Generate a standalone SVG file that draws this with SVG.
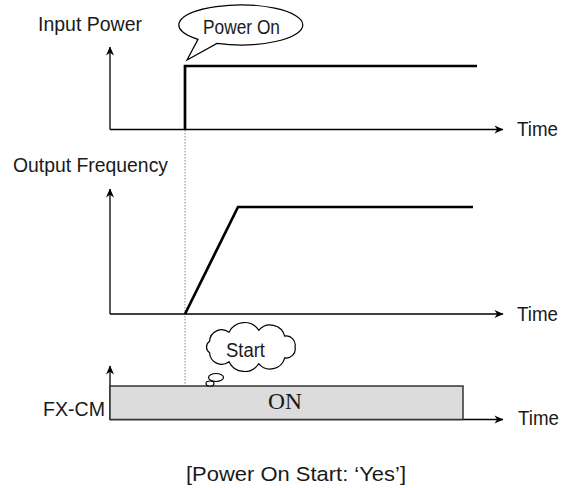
<svg xmlns="http://www.w3.org/2000/svg" width="566" height="488" viewBox="0 0 566 488">
<style>
.t{font-family:"Liberation Sans",Arial,sans-serif;font-size:20.5px;fill:#1a1a1a}
.ax{stroke:#000;stroke-width:1.3;fill:none;marker-end:url(#ah)}
.sig{stroke:#000;stroke-width:2.7;fill:none;stroke-linejoin:miter}
.bub{fill:#fff;stroke:#000;stroke-width:1.2}
</style>
<defs>
<marker id="ah" viewBox="0 0 10 10" refX="9.5" refY="5" markerWidth="10" markerHeight="9" markerUnits="userSpaceOnUse" orient="auto">
<path d="M0,0.5 L10,5 L0,9.5 L3,5 z" fill="#000"/>
</marker>
</defs>
<rect width="566" height="488" fill="#fff"/>

<g id="connectors">
<line x1="185" y1="130" x2="185" y2="385" stroke="#888" stroke-width="1" stroke-dasharray="1.5 1.5"/>
<path class="ax" d="M110,129.5 V47"/>
<path class="ax" d="M110,129.5 H503"/>
<path class="ax" d="M110,314 V189"/>
<path class="ax" d="M110,314 H503"/>
<path class="ax" d="M110,419.5 V366"/>
<path class="ax" d="M110,419.5 H503"/>
<polyline class="sig" points="185,130 185,66 477,66"/>
<polyline class="sig" points="185,314 238,207 473,207"/>
</g>

<g id="input-power">
<text class="t" x="38" y="30.5" textLength="104" lengthAdjust="spacingAndGlyphs">Input Power</text>
<text class="t" x="517" y="136" textLength="41" lengthAdjust="spacingAndGlyphs">Time</text>
</g>

<g id="power-on-callout">
<path class="bub" d="M198,39.4 L187,60 L217,43.4 A62 20 0 1 0 198,39.4 Z"/>
<text class="t" x="203" y="34" font-size="19.5" textLength="77" lengthAdjust="spacingAndGlyphs">Power On</text>
</g>

<g id="output-frequency">
<text class="t" x="13" y="172" textLength="155" lengthAdjust="spacingAndGlyphs">Output Frequency</text>
<text class="t" x="517" y="320.5" textLength="41" lengthAdjust="spacingAndGlyphs">Time</text>
</g>

<g id="fx-cm">
<rect x="110" y="386" width="353" height="33.5" fill="#dcdcdc" stroke="#333" stroke-width="1.5"/>
<text x="268" y="409" font-family="'Liberation Serif','Times New Roman',serif" font-size="22.5" fill="#1a1a1a" textLength="34" lengthAdjust="spacingAndGlyphs">ON</text>
<text class="t" x="43" y="416" textLength="62" lengthAdjust="spacingAndGlyphs">FX-CM</text>
<text class="t" x="518" y="425" textLength="41" lengthAdjust="spacingAndGlyphs">Time</text>
</g>

<g id="start-cloud">
<path class="bub" d="M295,347 A9 9 0 0 1 284.7,357.9 A15 15 0 0 1 258.7,363.7 A17 17 0 0 1 229,361.7 A12 12 0 0 1 209.6,352.8 A7 7 0 0 1 209.6,341.2 A12 12 0 0 1 229,332.3 A17 17 0 0 1 258.7,330.3 A15 15 0 0 1 284.7,336.1 A9 9 0 0 1 295,347 Z"/>
<ellipse class="bub" cx="216" cy="377.5" rx="7.5" ry="4"/>
<ellipse class="bub" cx="210" cy="383.5" rx="4" ry="2.5"/>
<text class="t" x="226" y="357" textLength="39" lengthAdjust="spacingAndGlyphs">Start</text>
</g>

<g id="caption">
<text class="t" x="186" y="481" font-size="22" textLength="220" lengthAdjust="spacingAndGlyphs">[Power On Start: ‘Yes’]</text>
</g>
</svg>
